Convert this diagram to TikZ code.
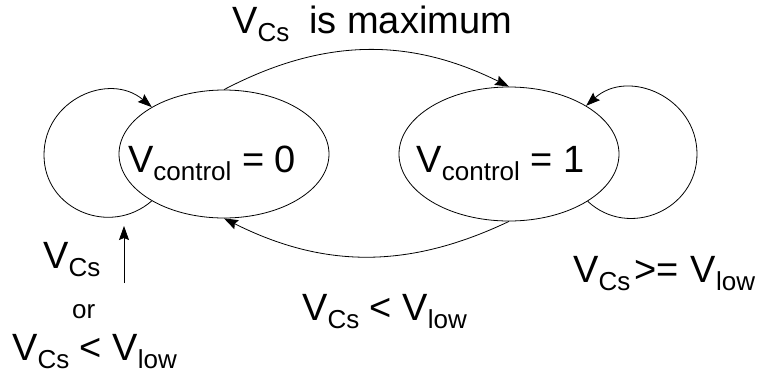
\documentclass[tikz,border=0pt]{standalone}
\usepackage{fontspec}
\setmainfont{Liberation Sans}
\usepackage{tikz}
\usetikzlibrary{arrows.meta,shapes.geometric,positioning,calc}

\newcommand{\Vs}[1]{V\raisebox{-8pt}{\fontsize{26}{28}\selectfont #1}}

\begin{document}
\begin{tikzpicture}[x=1pt, y=1pt,
		statebox/.style={draw, ellipse, inner sep=0pt, line width=0.8pt, text height=36pt, text depth=0pt, font=\fontsize{38}{40}\selectfont},
		lbl/.style={anchor=base west, inner sep=0pt, font=\fontsize{38}{40}\selectfont},
		arr/.style={line width=0.8pt, -{Stealth[length=14pt, width=10pt, inset=2pt]}}]
		\useasboundingbox (0,0) rectangle (764,-376);

		% the two states
		\node[statebox, minimum width=210pt, minimum height=128pt] (off) at (224,-154) {\makebox[0pt]{\Vs{control} = 0\hspace{24pt}}};
		\node[statebox, minimum width=220pt, minimum height=134pt] (on) at (509,-154) {\makebox[0pt]{\Vs{control} = 1\hspace{17pt}}};

		% transitions between the states
		\draw[arr] (off.north) to[bend left=27] (on.north);
		\draw[arr] (on.south) to[bend left=26] (off.south);

		% self loops
		\coordinate (offloop) at (44,-155);
		\draw[arr] (off.213) to[out=221, in=270, looseness=1.2] (offloop) to[out=90, in=140, looseness=1.2] (off.147);
		\coordinate (onloop) at (697,-154);
		\draw[arr] (on.329) to[out=317, in=270, looseness=1.2] (onloop) to[out=90, in=42, looseness=1.2] (on.32);

		% arrow of the left loop
		\coordinate (uptail) at (124,-283);
		\coordinate (uptip) at (124,-226);
		\draw[arr] (uptail) -- (uptip);

		% labels
		\node[lbl] (max) at (232,-33) {\Vs{Cs}\hspace{20pt}is maximum};
		\node[lbl] (low) at (302,-320) {\Vs{Cs} < \Vs{low}};
		\node[lbl] (high) at (573,-282) {\Vs{Cs}\hspace{4pt}>=\hspace{12pt}\Vs{low}};
		\node[lbl] (vcs) at (43,-268) {\Vs{Cs}};
		\node[lbl, font=\fontsize{26}{28}\selectfont] (or) at (72,-318) {or};
		\node[lbl] (vcslow) at (12,-360) {\Vs{Cs} < \Vs{low}};
	\end{tikzpicture}
\end{document}
